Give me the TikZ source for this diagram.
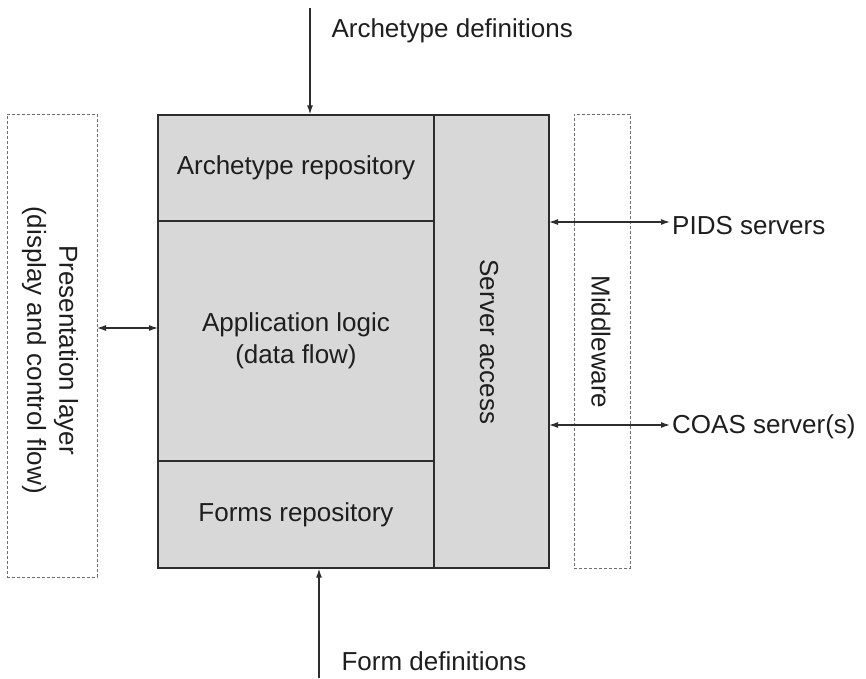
\documentclass[tikz,border=0pt]{standalone}
\usepackage{fontspec}
\setmainfont{Liberation Sans}
\usetikzlibrary{arrows.meta}
\definecolor{blockfill}{RGB}{216,216,216}
\definecolor{edge}{RGB}{45,45,45}
\definecolor{dashgray}{RGB}{110,110,110}
\definecolor{ink}{RGB}{30,30,30}
\begin{document}
\begin{tikzpicture}[x=1pt,y=-1pt,
  every node/.style={font=\fontsize{26}{32}\selectfont, text=ink},
  part/.style={draw=edge, line width=1.4pt, fill=blockfill, inner sep=0pt, align=center},
  layerbox/.style={draw=dashgray, line width=1pt, dash pattern=on 3pt off 2pt, inner sep=0pt},
  flow/.style={draw=edge, line width=1.2pt, -{Latex[length=9pt,width=6pt]}},
  twoway/.style={draw=edge, line width=1.2pt, {Latex[length=9pt,width=6pt]}-{Latex[length=9pt,width=6pt]}}]
  \useasboundingbox (0,0) rectangle (866,678);

  % main block: three stacked parts and the server access column
  \node[part, minimum width=276pt, minimum height=106pt] (archrepo) at (296,168) {Archetype repository};
  \node[part, minimum width=276pt, minimum height=240pt] (applogic) at (296,341) {Application logic\\(data flow)};
  \node[part, minimum width=276pt, minimum height=107pt] (formsrepo) at (296,514.5) {Forms repository};
  \node[part, minimum width=115pt, minimum height=453pt] (server) at (491.5,341.5) {};
  \node[rotate=-90] (serverlbl) at (489,342) {Server access};

  % dashed outer layers
  \node[layerbox, minimum width=90pt, minimum height=463pt] (pres) at (52,345.5) {};
  \node[rotate=-90, align=center] (preslbl) at (50,350) {Presentation layer\\(display and control flow)};
  \node[layerbox, minimum width=56pt, minimum height=454pt] (middle) at (602,341) {};
  \node[rotate=-90] (middlelbl) at (601,342) {Middleware};

  % inputs and servers
  \node[anchor=west] (archdef) at (328,31) {Archetype definitions};
  \node[anchor=west] (formdef) at (338,661) {Form definitions};
  \node[anchor=west, inner sep=2pt] (pids) at (670,226) {PIDS servers};
  \node[anchor=west, inner sep=2pt] (coas) at (670,427) {COAS server(s)};

  \coordinate (archin) at (310,8);
  \coordinate (formin) at (319,678);
  \coordinate (presport) at (97,328);
  \coordinate (logicport) at (158,328);
  \coordinate (pidsport) at (549,222);
  \coordinate (coasport) at (549,425);

  \draw[flow] (archin) -- (archin |- archrepo.north);
  \draw[flow] (formin) -- (formin |- formsrepo.south);
  \draw[twoway] (presport) -- (logicport);
  \draw[twoway] (pidsport) -- (pids.west |- pidsport);
  \draw[twoway] (coasport) -- (coas.west |- coasport);
\end{tikzpicture}
\end{document}
